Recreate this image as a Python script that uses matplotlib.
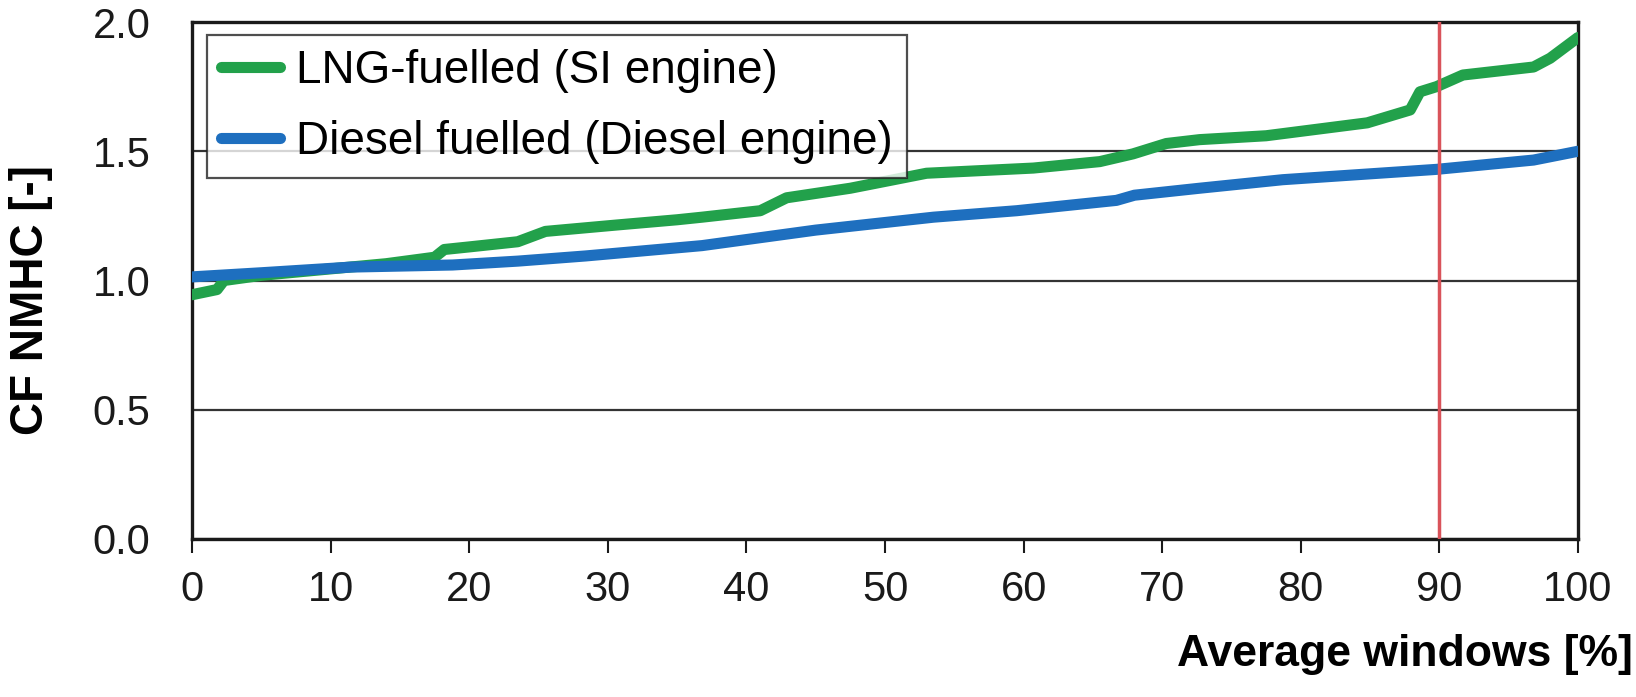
import matplotlib
matplotlib.use("Agg")
from matplotlib import pyplot as plt

plt.rcParams['font.family'] = ['Liberation Sans', 'DejaVu Sans']

lng_x = [0, 1.8, 2.3, 5, 10, 14, 17.5, 18.2, 20, 23.5, 25.5, 30.7, 35, 36.8, 41, 42.9,
         47.5, 53, 60.7, 65.5, 67.9, 70.3, 72.7, 77.5, 84.8, 87.9, 88.6, 89.8, 91.7,
         96.8, 98, 100]
lng_cf = [0.945, 0.965, 1.00, 1.02, 1.045, 1.065, 1.09, 1.12, 1.13, 1.15, 1.19, 1.215,
          1.235, 1.245, 1.27, 1.32, 1.357, 1.415, 1.435, 1.46, 1.49, 1.53, 1.545, 1.56,
          1.61, 1.66, 1.73, 1.75, 1.795, 1.826, 1.86, 1.94]

diesel_x = [0, 5, 11.5, 18.8, 23.5, 28.4, 36.8, 45, 53.5, 59.5, 66.7, 68, 72.7, 78.7,
            89.8, 96.8, 100]
diesel_cf = [1.014, 1.03, 1.052, 1.06, 1.075, 1.095, 1.135, 1.195, 1.245, 1.27, 1.31,
             1.33, 1.357, 1.39, 1.43, 1.466, 1.50]

labels = ["LNG-fuelled (SI engine)", "Diesel fuelled (Diesel engine)"]
x_ticks = [0, 10, 20, 30, 40, 50, 60, 70, 80, 90, 100]
y_ticks = [0.0, 0.5, 1.0, 1.5, 2.0]
limit_pct = 90

fig = plt.figure(figsize=(16.36, 6.97), dpi=100)
ax = fig.add_axes([0.1174, 0.2267, 0.8471, 0.7417])

ax.plot(lng_x, lng_cf, color="#22a14b", lw=8, solid_capstyle="round",
        label=labels[0], zorder=3)
ax.plot(diesel_x, diesel_cf, color="#1e6fbf", lw=8, solid_capstyle="round",
        label=labels[1], zorder=3)
ax.axvline(limit_pct, color="#d9535a", lw=2.5, zorder=4)

ax.set_xlim(0, 100)
ax.set_ylim(0, 2.0)
ax.set_xticks(x_ticks)
ax.set_yticks(y_ticks)
ax.set_yticklabels([f"{v:.1f}" for v in y_ticks])
ax.yaxis.grid(True, color="#333333", lw=1.6)
ax.set_axisbelow(True)

for s in ax.spines.values():
    s.set_linewidth(2.4)
    s.set_color("#1a1a1a")

ax.tick_params(axis="x", direction="out", length=10, width=1.5, pad=12,
               labelsize=30, colors="#1a1a1a")
ax.tick_params(axis="y", length=0, pad=30, labelsize=30, colors="#1a1a1a")

ax.set_xlabel("Average windows [%]", fontsize=32, fontweight="bold", ha="right")
ax.xaxis.set_label_coords(1.04, -0.183)
ax.set_ylabel("CF NMHC [-]", fontsize=33, fontweight="bold")
ax.yaxis.set_label_coords(-0.10, 0.462)

leg = ax.legend(loc="upper left", bbox_to_anchor=(0.0108, 0.975), fontsize=33,
                frameon=True, fancybox=False, borderpad=0.3, labelspacing=0.6,
                handlelength=1.3, handletextpad=0.35, borderaxespad=0)
leg.get_frame().set_edgecolor("#222222")
leg.get_frame().set_linewidth(1.6)

plt.savefig("out.png", dpi=100)
